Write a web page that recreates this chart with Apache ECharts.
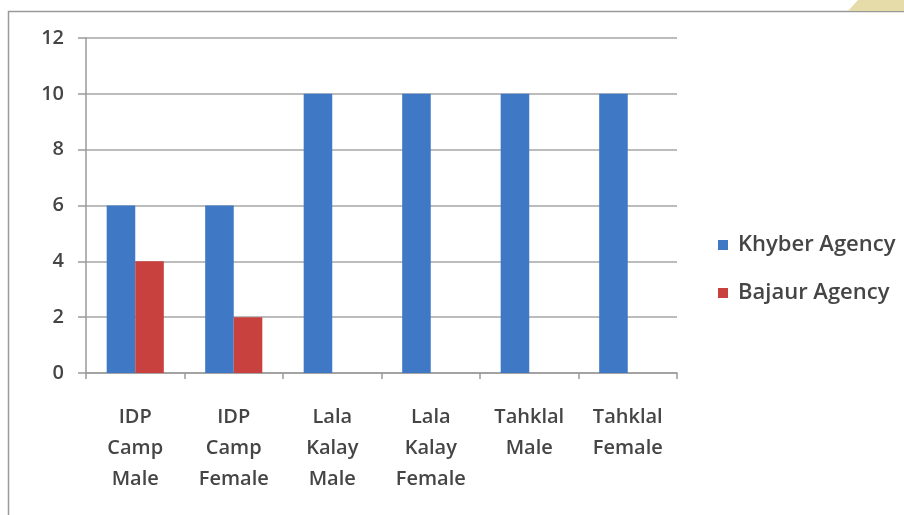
<!DOCTYPE html>
<html>
<head>
<meta charset="utf-8">
<script src="https://cdn.jsdelivr.net/npm/echarts@6/dist/echarts.min.js"></script>
<style>
  html, body { margin: 0; padding: 0; background: #ffffff; }
  #chart { width: 904px; height: 515px; }
</style>
</head>
<body>
<div id="chart"></div>
<script>
// Survey sites (split into lines for the axis labels)
const categories = [
  'IDP\nCamp\nMale',
  'IDP\nCamp\nFemale',
  'Lala\nKalay\nMale',
  'Lala\nKalay\nFemale',
  'Tahklal\nMale',
  'Tahklal\nFemale'
];
const khyberValues = [6, 6, 10, 10, 10, 10];
const bajaurValues = [4, 2, 0, 0, 0, 0];
const seriesNames = ['Khyber Agency', 'Bajaur Agency'];
const yTicks = { min: 0, max: 12, step: 2 };

const FONT = '"Open Sans", Lato, sans-serif';
const TEXT = '#454545';
const WEIGHT = 600;

const chart = echarts.init(document.getElementById('chart'), null, { renderer: 'canvas' });

chart.setOption({
  backgroundColor: '#ffffff',
  animation: false,
  graphic: [
    // chart frame
    {
      type: 'polyline',
      shape: { points: [[8.5, 515], [8.5, 11.5], [904, 11.5]] },
      style: { stroke: '#9a9a9a', lineWidth: 1.5, fill: null },
      z: 0
    },
    // page corner decoration
    {
      type: 'polygon',
      shape: { points: [[848, 11], [858, 0], [904, 0], [904, 11]] },
      style: { fill: '#e6dcaa' },
      z: 0
    }
  ],
  grid: { left: 86, right: 227, top: 38, bottom: 142, containLabel: false },
  legend: {
    orient: 'vertical',
    left: 713,
    top: 229,
    itemWidth: 10,
    itemHeight: 10,
    itemGap: 26,
    icon: 'rect',
    textStyle: { fontFamily: FONT, fontSize: 22, fontWeight: WEIGHT, color: TEXT, padding: [0, 0, 0, 5] },
    data: seriesNames
  },
  xAxis: {
    type: 'category',
    data: categories,
    axisLine: { lineStyle: { color: '#9a9a9a', width: 1.5 } },
    axisTick: { show: true, length: 6, alignWithLabel: false, lineStyle: { color: '#9a9a9a', width: 1.5 } },
    axisLabel: {
      fontFamily: FONT,
      fontSize: 20,
      fontWeight: WEIGHT,
      color: TEXT,
      lineHeight: 31,
      margin: 29,
      interval: 0
    }
  },
  yAxis: {
    type: 'value',
    min: yTicks.min,
    max: yTicks.max,
    interval: yTicks.step,
    axisLine: { show: true, lineStyle: { color: '#9a9a9a', width: 1.5 } },
    axisTick: { show: true, length: 8, lineStyle: { color: '#9a9a9a', width: 1.5 } },
    splitLine: { lineStyle: { color: '#a6a6a6', width: 1.5 } },
    axisLabel: { fontFamily: FONT, fontSize: 20, fontWeight: WEIGHT, color: TEXT, margin: 22 }
  },
  series: [
    {
      name: seriesNames[0],
      type: 'bar',
      data: khyberValues,
      barGap: '0%',
      barCategoryGap: '42%',
      itemStyle: { color: '#3f79c6' }
    },
    {
      name: seriesNames[1],
      type: 'bar',
      data: bajaurValues,
      itemStyle: { color: '#c8413f' }
    }
  ]
});
</script>
</body>
</html>
